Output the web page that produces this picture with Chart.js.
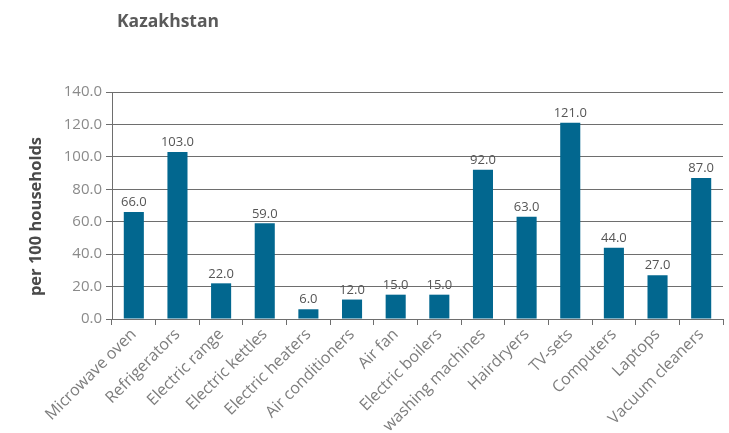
<!DOCTYPE html>
<html>
<head>
<meta charset="utf-8">
<script src="https://cdn.jsdelivr.net/npm/chart.js@4/dist/chart.umd.min.js"></script>
<style>
    html, body { margin: 0; padding: 0; background: #fff; }
    #wrap { width: 729px; height: 433px; position: relative; }
</style>
</head>
<body>
<div id="wrap"><canvas id="chart" width="729" height="433"></canvas></div>
<script>
const chartTitle = 'Kazakhstan';
const yTitle = 'per 100 households';
const categories = ['Microwave oven', 'Refrigerators', 'Electric range', 'Electric kettles', 'Electric heaters',
    'Air conditioners', 'Air fan', 'Electric boilers', 'washing machines', 'Hairdryers', 'TV-sets',
    'Computers', 'Laptops', 'Vacuum cleaners'];
const values = [66, 103, 22, 59, 6, 12, 15, 15, 92, 63, 121, 44, 27, 87];
const yMin = 0;
const yMax = 140;
const yStep = 20;

const FONT = "'Open Sans', sans-serif";
const barColor = '#02678f';
const lineColor = '#6e6e6e';

// chart title + y axis title, both placed like the original layout
const titlePlugin = {
    id: 'titles',
    afterDraw(chart) {
        const ctx = chart.ctx;
        const area = chart.chartArea;
        ctx.save();
        ctx.font = `bold 17.5px ${FONT}`;
        ctx.fillStyle = '#5a5a5a';
        ctx.textBaseline = 'middle';
        ctx.textAlign = 'left';
        ctx.fillText(chartTitle, area.left + 5, 22);

        ctx.translate(36, (area.top + area.bottom) / 2 + 11);
        ctx.rotate(-Math.PI / 2);
        ctx.font = `bold 16.5px ${FONT}`;
        ctx.fillStyle = '#4a4a4a';
        ctx.textAlign = 'center';
        ctx.fillText(yTitle, 0, 0);
        ctx.restore();
    }
};

// value labels above each bar
const valueLabels = {
    id: 'valueLabels',
    afterDatasetsDraw(chart) {
        const ctx = chart.ctx;
        const meta = chart.getDatasetMeta(0);
        ctx.save();
        ctx.font = `13px ${FONT}`;
        ctx.fillStyle = '#555';
        ctx.textAlign = 'center';
        ctx.textBaseline = 'bottom';
        meta.data.forEach((bar, i) => {
            ctx.fillText(values[i].toFixed(1), bar.x, bar.y - 3);
        });
        ctx.restore();
    }
};

new Chart(document.getElementById('chart'), {
    type: 'bar',
    data: {
        labels: categories,
        datasets: [{
            data: values,
            backgroundColor: barColor,
            borderWidth: 0,
            barPercentage: 0.46,
            categoryPercentage: 1.0
        }]
    },
    options: {
        responsive: false,
        animation: false,
        layout: { padding: { left: 0, right: 6, top: 92, bottom: 0 } },
        scales: {
            x: {
                afterFit: (scale) => { scale.height = 114; },
                grid: {
                    offset: true,
                    drawOnChartArea: false,
                    drawTicks: true,
                    tickLength: 6,
                    color: lineColor
                },
                border: { display: true, color: lineColor, width: 1 },
                ticks: {
                    color: '#7d7d7d',
                    font: { family: FONT, size: 16 },
                    minRotation: 45,
                    maxRotation: 45,
                    autoSkip: false,
                    padding: 0
                }
            },
            y: {
                min: yMin,
                max: yMax,
                afterFit: (scale) => { scale.width = 112; },
                grid: {
                    color: lineColor,
                    tickLength: 6,
                    drawTicks: true
                },
                border: { display: true, color: lineColor, width: 1 },
                ticks: {
                    stepSize: yStep,
                    color: '#8a8a8a',
                    font: { family: FONT, size: 15 },
                    padding: 4,
                    callback: (v) => Number(v).toFixed(1)
                }
            }
        },
        plugins: {
            legend: { display: false },
            tooltip: { enabled: false },
            title: { display: false }
        }
    },
    plugins: [titlePlugin, valueLabels]
});
</script>
</body>
</html>
